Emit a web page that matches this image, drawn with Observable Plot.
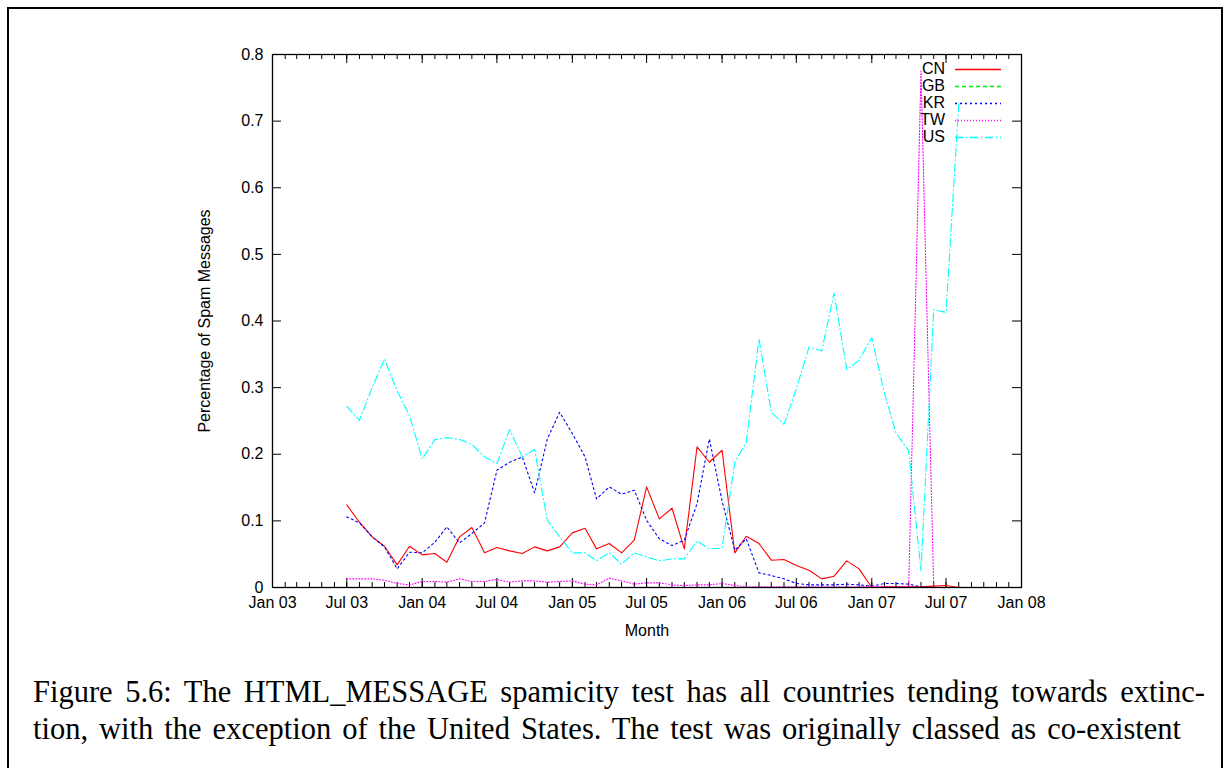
<!DOCTYPE html>
<html>
<head>
<meta charset="utf-8">
<script src="https://cdn.jsdelivr.net/npm/d3@7"></script>
<script src="https://cdn.jsdelivr.net/npm/@observablehq/plot@0.6"></script>
<style>
  html, body { margin: 0; padding: 0; background: #fff; }
  body { width: 1226px; height: 768px; overflow: hidden; position: relative; font-family: "Liberation Sans", Arial, sans-serif; }
  #border { position: absolute; left: 7px; top: 7px; width: 1216px; height: 820px; border: 2px solid #000; box-sizing: border-box; }
  #chart { position: absolute; left: 0; top: 0; }
  #legend { position: absolute; left: 880px; top: 60px; font-size: 16px; }
  #legend .row { position: absolute; height: 17px; line-height: 17px; white-space: nowrap; }
  #legend .lab { position: absolute; right: 0; width: 60px; text-align: right; }
  .cap { position: absolute; left: 33px; font-family: "Liberation Serif", "Times New Roman", serif; font-size: 30.5px; line-height: 37px; white-space: nowrap; color: #000; }
</style>
</head>
<body>
<div id="border"></div>
<div id="chart"></div>
<div id="legend"></div>
<div class="cap" id="cap1" style="top:674px;"></div>
<div class="cap" id="cap2" style="top:711px;"></div>
<script>
// ---- data (monthly, Jul 2003 .. Aug 2007) ----
const months = [
  "2003-07","2003-08","2003-09","2003-10","2003-11","2003-12",
  "2004-01","2004-02","2004-03","2004-04","2004-05","2004-06","2004-07","2004-08","2004-09","2004-10","2004-11","2004-12",
  "2005-01","2005-02","2005-03","2005-04","2005-05","2005-06","2005-07","2005-08","2005-09","2005-10","2005-11","2005-12",
  "2006-01","2006-02","2006-03","2006-04","2006-05","2006-06","2006-07","2006-08","2006-09","2006-10","2006-11","2006-12",
  "2007-01","2007-02","2007-03","2007-04","2007-05","2007-06","2007-07","2007-08"
];
const CN = [0.124,0.098,0.076,0.062,0.034,0.062, 0.049,0.051,0.038,0.076,0.090,0.052,0.060,0.055,0.051,0.061,0.055,0.061,
  0.082,0.089,0.058,0.066,0.052,0.071,0.151,0.103,0.119,0.058,0.211,0.188,
  0.206,0.052,0.077,0.066,0.041,0.042,0.033,0.026,0.013,0.017,0.040,0.028,
  0.000,0.001,0.001,0.001,0.001,0.002,0.003,0.000];
const GB = [0,0,0,0,0,0, 0,0,0,0,0,0,0,0,0,0,0,0, 0,0,0,0,0,0,0,0,0,0,0,0, 0,0,0,0,0,0,0,0,0,0,0,0, 0,0,0,0,0,0,0,0];
const KR = [0.106,0.097,0.076,0.061,0.028,0.053, 0.052,0.068,0.091,0.067,0.081,0.097,0.176,0.188,0.196,0.142,0.223,0.263,
  0.231,0.196,0.133,0.151,0.140,0.146,0.101,0.073,0.063,0.071,0.126,0.223,
  0.130,0.056,0.073,0.022,0.018,0.013,0.006,0.004,0.004,0.004,0.005,0.004,
  0.002,0.006,0.006,0.005,0.001,0.000,0.000,0.000];
const TW = [0.013,0.013,0.013,0.011,0.006,0.004, 0.009,0.009,0.008,0.013,0.009,0.009,0.012,0.008,0.010,0.010,0.008,0.009,
  0.010,0.005,0.004,0.014,0.010,0.005,0.007,0.007,0.004,0.003,0.004,0.004,
  0.006,0.003,0.001,0.001,0.001,0.001,0.001,0.001,0.001,0.001,0.001,0.001,
  0.001,0.001,0.001,0.001,0.775,0.000,0.000,0.000];
const US = [0.272,0.251,0.300,0.343,0.295,0.258, 0.193,0.222,0.225,0.222,0.215,0.196,0.186,0.237,0.196,0.207,0.101,0.076,
  0.052,0.052,0.040,0.052,0.035,0.052,0.046,0.040,0.043,0.043,0.070,0.058,
  0.059,0.188,0.218,0.373,0.263,0.245,0.298,0.361,0.355,0.442,0.327,0.341,
  0.375,0.291,0.232,0.205,0.025,0.417,0.413,0.726];

const seriesNames  = ["CN", "GB", "KR", "TW", "US"];
const seriesValues = [CN, GB, KR, TW, US];
const seriesColors = ["#ff0000", "#00ee00", "#0000ff", "#ff00ff", "#00ffff"];
const seriesDash   = [null, "4,3", "2,3", "1,2", "8,3,1,3"];

const xTickLabels = ["2003-01","2003-07","2004-01","2004-07","2005-01","2005-07","2006-01","2006-07","2007-01","2007-07","2008-01"];
const yTicks = [0, 0.1, 0.2, 0.3, 0.4, 0.5, 0.6, 0.7, 0.8];

const xLabel = "Month";
const yLabel = "Percentage of Spam Messages";
const caption1 = "Figure 5.6: The HTML_MESSAGE spamicity test has all countries tending towards extinc-";
const caption2 = "tion, with the exception of the United States. The test was originally classed as co-existent";

// ---- build ----
const parse = d3.utcParse("%Y-%m");
const xStart = parse("2003-01"), xEnd = parse("2008-01");
const xTickDates = xTickLabels.map(parse);
const minorDates = d3.utcMonths(xStart, d3.utcMonth.offset(xEnd, 1));

const rows = [];
seriesNames.forEach((name, i) => {
  months.forEach((m, j) => {
    const v = seriesValues[i][j];
    rows.push({series: name, date: parse(m), value: v == null ? NaN : v});
  });
});

const W = 1226, H = 660;
const mL = 272, mR = 205, mT = 54, mB = 73;
const pxPerUnitY = (H - mT - mB) / 0.8;
const yLen = px => px / pxPerUnitY;
const msPerPx = (xEnd - xStart) / (W - mL - mR);
const xOff = (d, px) => new Date(+d + px * msPerPx);

const lineMarks = seriesNames.map((name, i) =>
  Plot.line(rows.filter(r => r.series === name), {
    x: "date", y: "value",
    stroke: seriesColors[i], strokeWidth: 1.1,
    strokeDasharray: seriesDash[i] || undefined,
    curve: "linear"
  })
);

const chart = Plot.plot({
  width: W, height: H,
  marginLeft: mL, marginRight: mR, marginTop: mT, marginBottom: mB,
  style: {fontFamily: "'Liberation Sans', Arial, sans-serif", fontSize: "16px", color: "#000", background: "transparent"},
  x: {type: "utc", domain: [xStart, xEnd]},
  y: {domain: [0, 0.8]},
  marks: [
    Plot.axisX({ticks: xTickDates, tickFormat: d3.utcFormat("%b %y"), tickSize: 0, tickPadding: 9,
      label: xLabel, labelAnchor: "center", labelArrow: "none", labelOffset: 48, fontSize: 16}),
    Plot.axisY({ticks: yTicks, tickFormat: d => d === 0 ? "0" : d.toFixed(1), tickSize: 0, tickPadding: 9,
      label: yLabel, labelAnchor: "center", labelArrow: "none", labelOffset: 74, fontSize: 16}),
    // inward minor/major ticks on bottom & top
    Plot.ruleX(minorDates, {x: d => d, y1: 0, y2: yLen(5), stroke: "#000"}),
    Plot.ruleX(minorDates, {x: d => d, y1: 0.8, y2: 0.8 - yLen(5), stroke: "#000"}),
    Plot.ruleX(xTickDates, {x: d => d, y1: 0, y2: yLen(9), stroke: "#000"}),
    Plot.ruleX(xTickDates, {x: d => d, y1: 0.8, y2: 0.8 - yLen(9), stroke: "#000"}),
    // inward ticks on left & right
    Plot.ruleY(yTicks, {y: d => d, x1: xStart, x2: xOff(xStart, 9), stroke: "#000"}),
    Plot.ruleY(yTicks, {y: d => d, x1: xEnd, x2: xOff(xEnd, -9), stroke: "#000"}),
    ...lineMarks,
    Plot.frame({stroke: "#000", strokeWidth: 1.3})
  ]
});
document.getElementById("chart").appendChild(chart);

// ---- legend ----
const legend = document.getElementById("legend");
seriesNames.forEach((name, i) => {
  const row = document.createElement("div");
  row.className = "row";
  row.style.top = (i * 17) + "px";
  row.style.left = "0px";
  row.style.width = "125px";
  const lab = document.createElement("span");
  lab.className = "lab";
  lab.style.right = "60px";
  lab.textContent = name;
  row.appendChild(lab);
  const svgNS = "http://www.w3.org/2000/svg";
  const s = document.createElementNS(svgNS, "svg");
  s.setAttribute("width", "50"); s.setAttribute("height", "17");
  s.style.position = "absolute"; s.style.left = "75px"; s.style.top = "0px";
  const ln = document.createElementNS(svgNS, "line");
  ln.setAttribute("x1", "0"); ln.setAttribute("x2", "46");
  ln.setAttribute("y1", "9.5"); ln.setAttribute("y2", "9.5");
  ln.setAttribute("stroke", seriesColors[i]); ln.setAttribute("stroke-width", "1.3");
  if (seriesDash[i]) ln.setAttribute("stroke-dasharray", seriesDash[i]);
  s.appendChild(ln);
  row.appendChild(s);
  legend.appendChild(row);
});

// caption lines, stretched to their line widths via word spacing
function fitLine(id, text, target) {
  const el = document.getElementById(id);
  el.textContent = text;
  const natural = el.getBoundingClientRect().width;
  const spaces = (text.match(/ /g) || []).length;
  if (spaces > 0) el.style.wordSpacing = ((target - natural) / spaces).toFixed(2) + "px";
}
fitLine("cap1", caption1, 1172);
fitLine("cap2", caption2, 1148);
</script>
</body>
</html>
